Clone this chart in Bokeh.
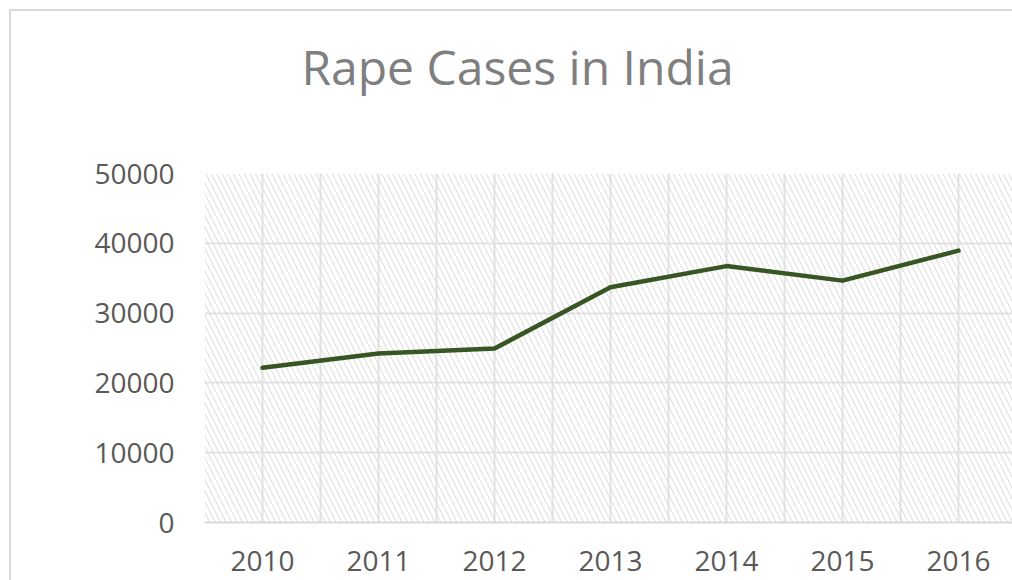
from bokeh.plotting import figure
from bokeh.models import FixedTicker, BoxAnnotation, Range1d, CustomJSTickFormatter, LinearAxis
from bokeh.embed import file_html
from bokeh.resources import INLINE

title = "Rape Cases in India"
years = [2010, 2011, 2012, 2013, 2014, 2015, 2016]
cases = [22172, 24206, 24923, 33707, 36735, 34651, 38947]
y_ticks = [0, 10000, 20000, 30000, 40000, 50000]
x_grid = [2009.5 + 0.5 * i for i in range(15)]

W, H = 1012, 580
FRAME_L, FRAME_T, FRAME_B = 204, 173, 522
px_x = 116.0                      # pixels per year

p = figure(width=W, height=H, output_backend="svg", toolbar_location=None,
           x_range=Range1d(2009.5, 2009.5 + (W - FRAME_L) / px_x), y_range=Range1d(0, 50000),
           min_border_left=FRAME_L, min_border_right=0, min_border_top=FRAME_T,
           min_border_bottom=H - FRAME_B)
p.outline_line_color = None
p.background_fill_color = "white"
p.border_fill_alpha = 0
line_bg = "linear-gradient(#d9d9d9, #d9d9d9)"
p.styles = {
    "background": f"{line_bg} 9px 9px / 2px 100% no-repeat, "
                  f"{line_bg} 9px 9px / 100% 2px no-repeat, white"
}

# hatched plot area
p.add_layout(BoxAnnotation(fill_alpha=0, line_alpha=0, hatch_pattern="\\",
                           hatch_color="#dadada", hatch_scale=11, hatch_weight=1,
                           level="underlay"))

xaxis = p.below[0]
yaxis = p.left[0]

# chart title, centred on the whole chart area (screen x 517)
title_x = 2009.5 + (517 - FRAME_L) / px_x
title_axis = LinearAxis(ticker=FixedTicker(ticks=[title_x]),
                        formatter=CustomJSTickFormatter(code=f"return {title!r};"),
                        axis_line_color=None, major_tick_line_color=None,
                        minor_tick_line_color=None,
                        major_label_text_font="Open Sans",
                        major_label_text_font_size="48px",
                        major_label_text_color="#7f7f7f",
                        major_label_standoff=69)
p.add_layout(title_axis, "above")

xaxis.ticker = FixedTicker(ticks=years)
xaxis.formatter = CustomJSTickFormatter(code="return tick.toFixed(0);")
yaxis.ticker = FixedTicker(ticks=y_ticks)
yaxis.formatter = CustomJSTickFormatter(code="return tick.toFixed(0);")
for ax in (xaxis, yaxis):
    ax.major_tick_line_color = None
    ax.minor_tick_line_color = None
    ax.major_label_text_font = "Open Sans"
    ax.major_label_text_font_size = "28px"
    ax.major_label_text_color = "#595959"
xaxis.axis_line_color = "#d9d9d9"
xaxis.axis_line_width = 2
xaxis.major_label_standoff = 22
yaxis.axis_line_color = None
yaxis.major_label_standoff = 24

p.xgrid.ticker = FixedTicker(ticks=x_grid)
p.ygrid.ticker = FixedTicker(ticks=y_ticks)
p.xgrid.grid_line_color = "#e3e3e3"
p.ygrid.grid_line_color = "#e3e3e3"
p.xgrid.grid_line_width = 2
p.ygrid.grid_line_width = 2

p.line(years, cases, line_color="#375623", line_width=4.5,
       line_join="round", line_cap="round")

open("out.html", "w").write(file_html(p, INLINE))
